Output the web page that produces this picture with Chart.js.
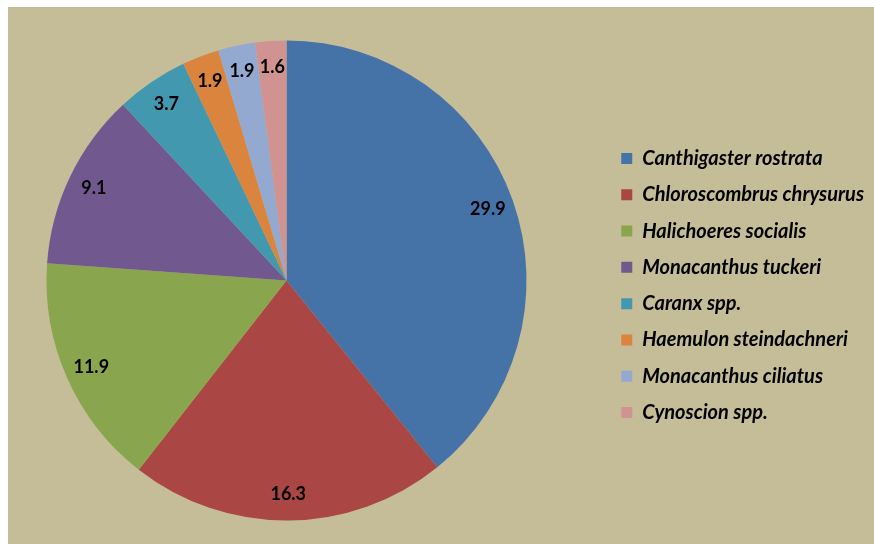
<!DOCTYPE html>
<html>
<head>
<meta charset="utf-8">
<script src="https://cdn.jsdelivr.net/npm/chart.js@4.4.1/dist/chart.umd.min.js"></script>
<style>
  html, body { margin: 0; padding: 0; background: #ffffff; }
  #wrap { position: absolute; left: 8px; top: 7px; width: 866px; height: 537px; background: #c4bd97; }
</style>
</head>
<body>
<div id="wrap"><canvas id="fishChart" width="866" height="537"></canvas></div>
<script>
// species and their share (%)
const species = [
  "Canthigaster rostrata",
  "Chloroscombrus chrysurus",
  "Halichoeres socialis",
  "Monacanthus tuckeri",
  "Caranx spp.",
  "Haemulon steindachneri",
  "Monacanthus ciliatus",
  "Cynoscion spp."
];
const shares = [29.9, 16.3, 11.9, 9.1, 3.7, 1.9, 1.9, 1.6];
const sliceColors = ["#4572a7", "#aa4643", "#89a54e", "#71588f", "#4198af", "#db843d", "#93a9cf", "#d19392"];

const FONT = "Lato, 'Open Sans', sans-serif";
const LEGEND_SHIFT = 10; // legend sits a little lower than the pie centre

// keep the pie square on the left, legend stays where it is
const placePie = {
  id: "placePie",
  afterLayout(chart) {
    const a = chart.chartArea;
    a.top -= LEGEND_SHIFT;
    a.height = a.bottom - a.top;
    a.right = a.left + a.height;
    a.width = a.height;
  }
};

// value labels near the outer edge of each slice
const sliceLabels = {
  id: "sliceLabels",
  afterDatasetsDraw(chart) {
    const ctx = chart.ctx;
    const meta = chart.getDatasetMeta(0);
    ctx.save();
    ctx.font = "bold 18px " + FONT;
    ctx.fillStyle = "#000";
    ctx.textAlign = "center";
    ctx.textBaseline = "middle";
    meta.data.forEach((arc, i) => {
      const mid = (arc.startAngle + arc.endAngle) / 2;
      const r = arc.outerRadius * 0.89;
      ctx.fillText(shares[i].toFixed(1), arc.x + Math.cos(mid) * r, arc.y + Math.sin(mid) * r);
    });
    ctx.restore();
  }
};

new Chart(document.getElementById("fishChart"), {
  type: "pie",
  data: {
    labels: species,
    datasets: [{
      data: shares,
      backgroundColor: sliceColors,
      borderWidth: 0
    }]
  },
  options: {
    responsive: false,
    animation: false,
    layout: { padding: { left: 38.5, top: 33.5 + LEGEND_SHIFT, bottom: 23.5, right: 0 } },
    plugins: {
      tooltip: { enabled: false },
      legend: {
        position: "right",
        labels: {
          boxWidth: 11,
          boxHeight: 11,
          padding: 16.3,
          color: "#000",
          font: { family: FONT, size: 20, weight: "bold", style: "italic" }
        }
      }
    }
  },
  plugins: [placePie, sliceLabels]
});
</script>
</body>
</html>
